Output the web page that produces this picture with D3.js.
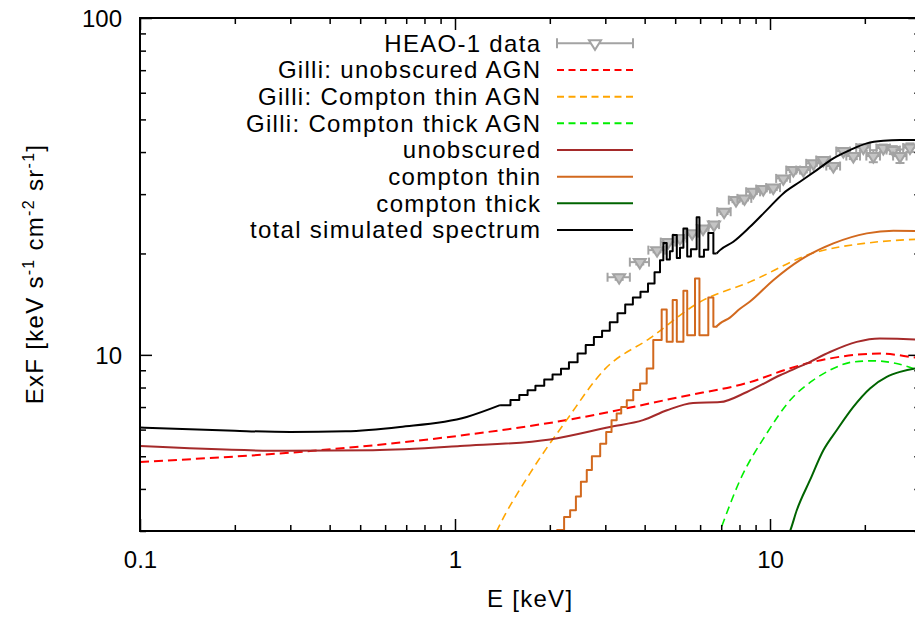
<!DOCTYPE html>
<html>
<head>
<meta charset="utf-8">
<script src="https://cdn.jsdelivr.net/npm/d3@7"></script>
<style>
body { margin: 0; background: #fff; }
svg { display: block; font-family: "Liberation Sans", Arial, Helvetica, sans-serif; }
</style>
</head>
<body>
<svg id="chart" width="915" height="617"></svg>
<script>
// HEAO-1 data points (E [keV], ExF, half widths)
var heaoE = [3.32, 3.86, 4.38, 4.75, 5.18, 5.66, 6.13, 6.64, 7.15, 7.80, 8.30, 8.85, 9.52, 10.24, 11.02, 11.86, 12.76, 13.73, 14.77, 15.89, 17.09, 18.39, 19.78, 21.28, 22.89, 24.63, 25.86, 27.82];
var heaoF = [17.0, 18.85, 20.46, 21.62, 22.21, 22.98, 23.7, 24.36, 26.6, 28.8, 29.14, 30.48, 31.05, 31.37, 33.41, 35.36, 35.36, 37.03, 37.88, 36.35, 40.27, 38.92, 41.24, 38.92, 41.1, 40.55, 38.92, 41.24];
var heaoDE = [0.27, 0.27, 0.27, 0.25, 0.25, 0.25, 0.25, 0.25, 0.35, 0.4, 0.42, 0.45, 0.48, 0.52, 0.56, 0.6, 0.65, 0.7, 0.75, 0.8, 0.86, 0.92, 1.0, 1.06, 1.13, 1.2, 1.27, 1.35];
var heaoDF = [0.3, 0.3, 0.3, 0.3, 0.3, 0.3, 0.35, 0.35, 0.4, 0.4, 0.4, 0.45, 0.45, 0.5, 0.5, 0.5, 0.55, 0.6, 0.6, 0.6, 0.7, 0.8, 0.9, 1.6, 1.0, 1.1, 1.8, 1.2];

// Gilli model curves
var gilliUnobsE = [0.1, 0.354, 1.04, 2.32, 5.18, 8.64, 11.6, 13.7, 15.5, 22.3, 28.9, 30];
var gilliUnobsF = [4.81, 5.19, 5.76, 6.43, 7.50, 8.30, 9.13, 9.53, 9.76, 10.09, 9.82, 9.78];
var gilliThinE = [1.30, 1.357, 1.73, 2.26, 2.99, 4.16, 6.00, 8.64, 13.7, 20.2, 28.9, 30];
var gilliThinF = [2.75, 3.0, 4.45, 6.40, 9.07, 11.21, 14.37, 16.47, 20.05, 21.46, 22.02, 22.05];
var gilliThickE = [6.80, 6.94, 8.03, 9.76, 11.58, 13.72, 15.5, 18.39, 21.3, 24.6, 28.5, 30];
var gilliThickF = [2.85, 3.0, 4.245, 5.84, 7.33, 8.41, 9.01, 9.53, 9.60, 9.47, 9.11, 8.95];

// simulated spectra
var unobsE = [0.1, 0.293, 0.549, 1.037, 2.003, 3.105, 3.953, 4.71, 5.70, 6.94, 8.45, 10.76, 13.08, 15.5, 18.85, 22.3, 28.9, 30];
var unobsF = [5.36, 5.19, 5.21, 5.36, 5.61, 6.11, 6.40, 6.85, 7.20, 7.24, 7.76, 8.70, 9.43, 10.2, 10.93, 11.19, 11.11, 11.08];

var thinStepE = [2.09, 2.11, 2.22, 2.32, 2.42, 2.51, 2.62, 2.72, 2.89, 3.02, 3.14, 3.26, 3.37, 3.51, 3.68, 3.87, 4.06, 4.26, 4.53, 4.70, 4.91, 5.06, 5.31, 5.46, 5.78, 5.97, 6.37, 6.61, 6.77];
var thinStepF = [2.9, 3.02, 3.3, 3.46, 3.8, 4.2, 4.55, 5.0, 5.45, 5.9, 6.4, 6.7, 7.0, 7.33, 7.86, 8.22, 9.11, 11.06, 13.64, 10.93, 14.54, 10.93, 15.49, 11.44, 16.86, 11.44, 14.81, 12.11, 12.15];
var thinHighE = [6.77, 6.94, 7.46, 8.03, 8.64, 10.24, 12.45, 15.89, 20.28, 24.63, 28.9, 30];
var thinHighF = [12.15, 12.4, 12.9, 13.7, 14.4, 16.66, 19.11, 21.42, 22.94, 23.35, 23.3, 23.25];

var thickE = [11.3, 11.58, 12.16, 13.39, 14.77, 16.28, 18.39, 20.77, 23.47, 25.86, 28.9, 30];
var thickF = [2.85, 3.0, 3.457, 4.245, 5.21, 5.975, 7.01, 7.95, 8.60, 8.90, 9.11, 9.15];

var totalLowE = [0.1, 0.2, 0.3, 0.45, 0.669, 1.089, 1.39];
var totalLowF = [6.085, 5.95, 5.905, 5.93, 6.11, 6.54, 7.09];
var totalStepE = [1.39, 1.50, 1.60, 1.70, 1.80, 1.92, 2.04, 2.17, 2.30, 2.45, 2.60, 2.76, 2.93, 3.10, 3.28, 3.47, 3.67, 3.88, 4.10, 4.30, 4.475, 4.585, 4.70, 4.81, 4.91, 5.06, 5.18, 5.31, 5.46, 5.61, 5.85, 5.97, 6.17, 6.37, 6.61, 6.77];
var totalStepF = [7.09, 7.35, 7.6, 7.85, 8.1, 8.45, 8.75, 9.1, 9.5, 10.1, 10.7, 11.3, 11.8, 12.5, 13.3, 14.1, 14.8, 15.4, 16.3, 17.6, 19.1, 21.5, 19.2, 20.3, 22.7, 19.4, 20.8, 23.7, 19.6, 20.6, 25.6, 19.55, 20.5, 23.0, 20.0, 20.0];
var totalHighE = [6.77, 6.94, 7.65, 8.64, 9.76, 11.02, 12.45, 14.07, 15.89, 17.95, 20.28, 22.89, 25.86, 30];
var totalHighF = [20.0, 20.46, 21.66, 23.99, 26.9, 30.15, 32.65, 35.36, 38.31, 40.55, 42.45, 43.21, 43.42, 43.4];

// axes
var xMajor = [0.1, 1, 10];
var xTickLabels = ["0.1", "1", "10"];
var xMinor = [0.2, 0.3, 0.4, 0.5, 0.6, 0.7, 0.8, 0.9, 2, 3, 4, 5, 6, 7, 8, 9, 20, 30];
var yMajor = [10, 100];
var yTickLabels = ["10", "100"];
var yMinor = [3, 4, 5, 6, 7, 8, 9, 20, 30, 40, 50, 60, 70, 80, 90];

var legendLabels = ["HEAO-1 data", "Gilli: unobscured AGN", "Gilli: Compton thin AGN", "Gilli: Compton thick AGN",
    "unobscured", "compton thin", "compton thick", "total simulated spectrum"];

var fontSize = 24;
var plotLeft = 140, plotRight = 920.3, plotTop = 18, plotBottom = 531;

var svg = d3.select("#chart");

var x = d3.scaleLog().domain([0.1, 30]).range([plotLeft, plotRight]);
var y = d3.scaleLog().domain([3, 100]).range([plotBottom, plotTop]);

svg.append("defs").append("clipPath").attr("id", "clip")
    .append("rect")
    .attr("x", plotLeft).attr("y", plotTop)
    .attr("width", plotRight - plotLeft).attr("height", plotBottom - plotTop);

var plot = svg.append("g").attr("clip-path", "url(#clip)");

function drawCurve(E, F, color, lw, dash, curve) {
    var pts = E.map(function(e, i) { return [e, F[i]]; });
    plot.append("path")
        .datum(pts)
        .attr("fill", "none")
        .attr("stroke", color)
        .attr("stroke-width", lw)
        .attr("stroke-dasharray", dash)
        .attr("stroke-linejoin", "round")
        .attr("d", d3.line()
            .x(function(d) { return x(d[0]); })
            .y(function(d) { return y(d[1]); })
            .curve(curve));
}

// HEAO-1 points with error bars
var gray = "#a3a3a3";
var heao = plot.append("g").attr("stroke", gray).attr("stroke-width", 2).attr("fill", "none");
heaoE.forEach(function(e, i) {
    var cx = x(e), cy = y(heaoF[i]);
    var x0 = x(e - heaoDE[i]), x1 = x(e + heaoDE[i]);
    var y0 = y(heaoF[i] - heaoDF[i]), y1 = y(heaoF[i] + heaoDF[i]);
    heao.append("line").attr("x1", x0).attr("x2", x1).attr("y1", cy).attr("y2", cy);
    heao.append("line").attr("x1", x0).attr("x2", x0).attr("y1", cy - 4.5).attr("y2", cy + 4.5);
    heao.append("line").attr("x1", x1).attr("x2", x1).attr("y1", cy - 4.5).attr("y2", cy + 4.5);
    heao.append("line").attr("x1", cx).attr("x2", cx).attr("y1", y0).attr("y2", y1);
    heao.append("line").attr("x1", cx - 4.5).attr("x2", cx + 4.5).attr("y1", y0).attr("y2", y0);
    heao.append("line").attr("x1", cx - 4.5).attr("x2", cx + 4.5).attr("y1", y1).attr("y2", y1);
    heao.append("path").attr("d", "M" + (cx - 6) + "," + (cy - 3) + "h12l-6,9.5z")
        .attr("fill", "#c4c4c4");
});

drawCurve(gilliUnobsE, gilliUnobsF, "#ff0000", 2, "9,5", d3.curveMonotoneX);
drawCurve(gilliThinE, gilliThinF, "#ffa500", 1.6, "8,5", d3.curveMonotoneX);
drawCurve(gilliThickE, gilliThickF, "#00ee00", 1.6, "8,5", d3.curveMonotoneX);
drawCurve(unobsE, unobsF, "#a52a2a", 2, null, d3.curveMonotoneX);
drawCurve(thinStepE, thinStepF, "#d2691e", 2, null, d3.curveStepAfter);
drawCurve(thinHighE, thinHighF, "#d2691e", 2, null, d3.curveMonotoneX);
drawCurve(thickE, thickF, "#006400", 2, null, d3.curveMonotoneX);
drawCurve(totalLowE, totalLowF, "#000000", 2, null, d3.curveMonotoneX);
drawCurve(totalStepE, totalStepF, "#000000", 2, null, d3.curveStepAfter);
drawCurve(totalHighE, totalHighF, "#000000", 2, null, d3.curveMonotoneX);

// frame and ticks (inward on all sides)
function styleAxis(g) {
    g.select(".domain").remove();
    g.selectAll(".tick line").attr("stroke", "#000").attr("stroke-width", 1.5);
    g.selectAll("text").attr("font-size", fontSize).attr("fill", "#000")
        .attr("font-family", "'Liberation Sans', Arial, sans-serif");
}

svg.append("g").attr("transform", "translate(0," + plotBottom + ")")
    .call(d3.axisBottom(x).tickValues(xMajor).tickSize(-12).tickPadding(20)
        .tickFormat(function(d, i) { return xTickLabels[i]; }))
    .call(styleAxis);
svg.append("g").attr("transform", "translate(0," + plotBottom + ")")
    .call(d3.axisBottom(x).tickValues(xMinor).tickSize(-6).tickFormat(""))
    .call(styleAxis);
svg.append("g").attr("transform", "translate(0," + plotTop + ")")
    .call(d3.axisTop(x).tickValues(xMajor).tickSize(-12).tickFormat(""))
    .call(styleAxis);
svg.append("g").attr("transform", "translate(0," + plotTop + ")")
    .call(d3.axisTop(x).tickValues(xMinor).tickSize(-6).tickFormat(""))
    .call(styleAxis);

var yAxis = svg.append("g").attr("transform", "translate(" + plotLeft + ",0)")
    .call(d3.axisLeft(y).tickValues(yMajor).tickSize(-12).tickPadding(18)
        .tickFormat(function(d, i) { return yTickLabels[i]; }))
    .call(styleAxis);
yAxis.selectAll("text").attr("dy", "0.36em");
svg.append("g").attr("transform", "translate(" + plotLeft + ",0)")
    .call(d3.axisLeft(y).tickValues(yMinor).tickSize(-6).tickFormat(""))
    .call(styleAxis);
svg.append("g").attr("transform", "translate(" + plotRight + ",0)")
    .call(d3.axisRight(y).tickValues(yMajor).tickSize(-12).tickFormat(""))
    .call(styleAxis);
svg.append("g").attr("transform", "translate(" + plotRight + ",0)")
    .call(d3.axisRight(y).tickValues(yMinor).tickSize(-6).tickFormat(""))
    .call(styleAxis);

svg.append("rect")
    .attr("x", plotLeft).attr("y", plotTop)
    .attr("width", plotRight - plotLeft).attr("height", plotBottom - plotTop)
    .attr("fill", "none").attr("stroke", "#000").attr("stroke-width", 2);

// axis titles
svg.append("text")
    .attr("x", (plotLeft + plotRight) / 2).attr("y", 607)
    .attr("text-anchor", "middle").attr("font-size", fontSize)
    .attr("letter-spacing", 1.3)
    .text("E [keV]");

var ylab = svg.append("text")
    .attr("transform", "translate(43,274) rotate(-90)")
    .attr("text-anchor", "middle").attr("font-size", fontSize)
    .attr("letter-spacing", 1.3);
ylab.append("tspan").text("ExF [keV s");
ylab.append("tspan").attr("dy", -9).attr("font-size", 16).text("-1");
ylab.append("tspan").attr("dy", 9).text(" cm");
ylab.append("tspan").attr("dy", -9).attr("font-size", 16).text("-2");
ylab.append("tspan").attr("dy", 9).text(" sr");
ylab.append("tspan").attr("dy", -9).attr("font-size", 16).text("-1");
ylab.append("tspan").attr("dy", 9).text("]");

// legend
var legendStyles = [
    { color: gray, lw: 2, dash: null },
    { color: "#ff0000", lw: 2, dash: "7,4.5" },
    { color: "#ffa500", lw: 2, dash: "7,4.5" },
    { color: "#00ee00", lw: 2, dash: "7,4.5" },
    { color: "#a52a2a", lw: 2, dash: null },
    { color: "#d2691e", lw: 2, dash: null },
    { color: "#006400", lw: 2, dash: null },
    { color: "#000000", lw: 2, dash: null }
];
var legend = svg.append("g");
legendLabels.forEach(function(label, i) {
    var ly = 43.3 + i * 26.67;
    var s = legendStyles[i];
    legend.append("text")
        .attr("x", 541.3).attr("y", ly + 8.5)
        .attr("text-anchor", "end").attr("font-size", fontSize)
        .attr("letter-spacing", 1.3)
        .text(label);
    legend.append("line")
        .attr("x1", 557).attr("x2", 633).attr("y1", ly).attr("y2", ly)
        .attr("stroke", s.color).attr("stroke-width", s.lw)
        .attr("stroke-dasharray", s.dash);
    if (i == 0) {
        var g = legend.append("g").attr("stroke", gray).attr("stroke-width", 2).attr("fill", "none");
        g.append("line").attr("x1", 557).attr("x2", 557).attr("y1", ly - 5).attr("y2", ly + 5);
        g.append("line").attr("x1", 633).attr("x2", 633).attr("y1", ly - 5).attr("y2", ly + 5);
        g.append("path").attr("d", "M" + 589 + "," + (ly - 3) + "h12l-6,9.5z").attr("fill", "#fff");
    }
});
</script>
</body>
</html>
